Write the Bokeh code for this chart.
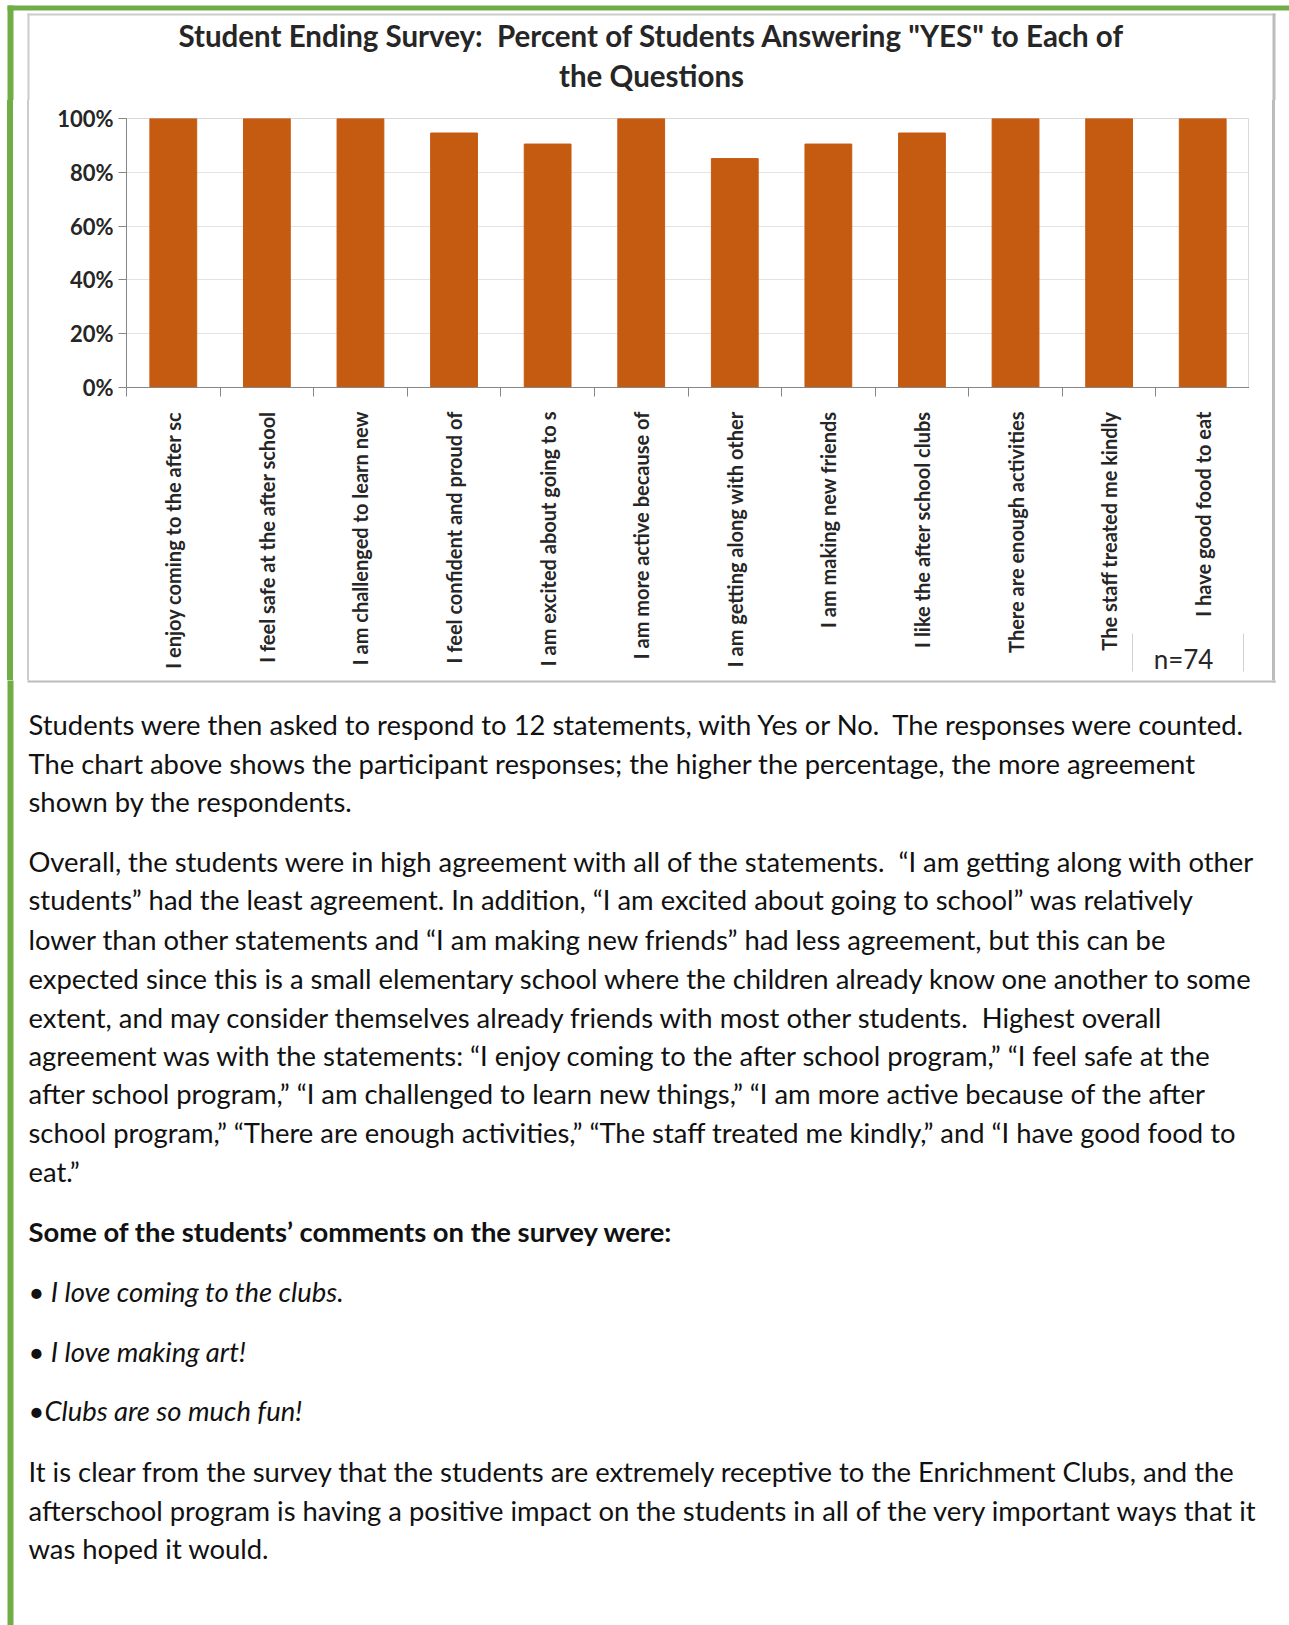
import math
from bokeh.plotting import figure
from bokeh.layouts import column, row
from bokeh.models import (Range1d, FactorRange, LinearAxis, CategoricalAxis, FixedTicker,
                          PrintfTickFormatter, CustomJSTickFormatter, Div)
from bokeh.core.properties import value
from bokeh.embed import file_html
from bokeh.resources import INLINE

# ---------------- data ----------------
categories = [
    "I enjoy coming to the after sc",
    "I feel safe at the after school",
    "I am challenged to learn new",
    "I feel confident and proud of",
    "I am excited about going to s",
    "I am more active because of",
    "I am getting along with other",
    "I am making new friends",
    "I like the after school clubs",
    "There are enough activities",
    "The staff treated me kindly",
    "I have good food to eat",
]
percent_yes = [100, 100, 100, 94.6, 90.5, 100, 85.1, 90.5, 94.6, 100, 100, 100]
y_ticks = [0, 20, 40, 60, 80, 100]
title_lines = ["Student Ending Survey:  Percent of Students Answering \"YES\" to Each of",
               "the Questions"]
sample_note = "n=74"

para1 = [
    "Students were then asked to respond to 12 statements, with Yes or No.  The responses were counted.",
    "The chart above shows the participant responses; the higher the percentage, the more agreement",
    "shown by the respondents.",
]
para2 = [
    "Overall, the students were in high agreement with all of the statements.  \u201cI am getting along with other",
    "students\u201d had the least agreement. In addition, \u201cI am excited about going to school\u201d was relatively",
    "lower than other statements and \u201cI am making new friends\u201d had less agreement, but this can be",
    "expected since this is a small elementary school where the children already know one another to some",
    "extent, and may consider themselves already friends with most other students.  Highest overall",
    "agreement was with the statements: \u201cI enjoy coming to the after school program,\u201d \u201cI feel safe at the",
    "after school program,\u201d \u201cI am challenged to learn new things,\u201d \u201cI am more active because of the after",
    "school program,\u201d \u201cThere are enough activities,\u201d \u201cThe staff treated me kindly,\u201d and \u201cI have good food to",
    "eat.\u201d",
]
comments_head = "Some of the students\u2019 comments on the survey were:"
comments = ["\u2022 I love coming to the clubs.", "\u2022 I love making art!", "\u2022Clubs are so much fun!"]
para3 = [
    "It is clear from the survey that the students are extremely receptive to the Enrichment Clubs, and the",
    "afterschool program is having a positive impact on the students in all of the very important ways that it",
    "was hoped it would.",
]

# ---------------- geometry (page pixels) ----------------
W, H = 1289, 1625
FL, FR, FT, FB = 126, 1249, 118, 387      # chart frame edges
CX0, CY0, CY1 = 40, 100, 680             # chart figure box: x from CX0 to FR, y from CY0 to CY1
N = len(categories)
FONT = "Lato"
AX = "#868686"
GREEN = "#70ad47"
BOX = "#cccccc"
BOX_SHADOW = "#bcbcbc"
INK = "#111111"


def keep_spaces(lines):
    return [t.replace("  ", "\u00a0 ") for t in lines]


def sx(px):
    """page pixel x -> synthetic categorical coordinate of the chart"""
    return (px - FL) * N / (FR - FL)


def deco_fig(x0, y0, w, h):
    f = figure(width=w, height=h, output_backend="svg", toolbar_location=None,
               x_range=Range1d(x0, x0 + w), y_range=Range1d(y0 + h, y0),
               x_axis_location=None, y_axis_location=None, min_border=0)
    f.grid.visible = False
    f.outline_line_color = None
    f.background_fill_color = "white"
    f.border_fill_color = "white"
    return f


def frame_lines(f):
    # green page border (top + left) and grey chart box
    f.quad(left=[7, 7], right=[W, 13], top=[5, 5], bottom=[10, H], color=GREEN, line_color=None)
    f.quad(left=[27, 27, 27, 1272], right=[29, 1275, 1275, 1275],
           top=[13, 13, 679, 13], bottom=[681, 15, 682, 682],
           color=[BOX, BOX, BOX_SHADOW, BOX_SHADOW], line_color=None)


def texts(f, x, ys, lines, size, style="normal", align="left", baseline="middle", color=INK):
    f.text(x=[x] * len(lines), y=ys, text=keep_spaces(lines), text_font=value(FONT),
           text_font_size=value(size), text_font_style=value(style),
           text_align=value(align), text_baseline=value(baseline), text_color=color)


def strip(width, height, bars):
    inner = "".join(
        f'<div style="position:absolute;left:{l}px;top:0;width:{w}px;height:{height}px;background:{c};"></div>'
        for l, w, c in bars)
    return Div(width=width, height=height, margin=0,
               text=f'<div style="position:relative;width:{width}px;height:{height}px;">{inner}</div>')


# ---------------- top strip ----------------
top = deco_fig(0, 0, W, CY0)
frame_lines(top)
texts(top, 651, [35, 75], title_lines, "29.5px", "bold", "center", color="#262626")

# ---------------- side strips ----------------
left = strip(CX0, CY1 - CY0, [(7, 6, GREEN), (27, 2, BOX)])
right = strip(W - FR, CY1 - CY0, [(1272 - FR, 3, BOX_SHADOW)])

# ---------------- chart ----------------
p = figure(width=FR - CX0, height=CY1 - CY0, output_backend="svg", toolbar_location=None,
           x_range=FactorRange(factors=categories), y_range=Range1d(0, 100),
           x_axis_location=None, y_axis_location=None,
           min_border_left=FL - CX0, min_border_right=0,
           min_border_top=FT - CY0, min_border_bottom=CY1 - FB)
p.background_fill_color = "white"
p.border_fill_color = "white"
p.outline_line_color = "#d9d9d9"
p.xgrid.visible = False
p.ygrid.grid_line_color = "#e3e3e3"
p.ygrid.ticker = FixedTicker(ticks=y_ticks)

p.vbar(x=categories, top=percent_yes, width=0.5, color="#c55a11")

yaxis = LinearAxis(ticker=FixedTicker(ticks=y_ticks), formatter=PrintfTickFormatter(format="%d%%"))
yaxis.axis_line_color = AX
yaxis.major_tick_line_color = AX
yaxis.major_tick_out = 8
yaxis.major_tick_in = 0
yaxis.minor_tick_line_color = None
yaxis.major_label_standoff = 5
yaxis.major_label_text_font = FONT
yaxis.major_label_text_font_style = "bold"
yaxis.major_label_text_font_size = "22px"
yaxis.major_label_text_color = "#262626"
p.add_layout(yaxis, "left")

# category boundary ticks (synthetic coordinates 0..N)
tick_axis = LinearAxis(ticker=FixedTicker(ticks=list(range(N + 1))))
tick_axis.axis_line_color = AX
tick_axis.major_tick_line_color = AX
tick_axis.major_tick_out = 9
tick_axis.major_tick_in = 0
tick_axis.minor_tick_line_color = None
tick_axis.major_label_standoff = 0
tick_axis.major_label_text_font_size = "0px"
tick_axis.major_label_text_color = None
p.add_layout(tick_axis, "below")

xaxis = CategoricalAxis()
xaxis.axis_line_color = None
xaxis.major_tick_line_color = None
xaxis.major_label_orientation = math.pi / 2
xaxis.major_label_standoff = 9
xaxis.major_label_text_font = FONT
xaxis.major_label_text_font_style = "bold"
xaxis.major_label_text_font_size = "20px"
xaxis.major_label_text_color = "#262626"
p.add_layout(xaxis, "below")

# sides of the small "n=" text box
box_axis = LinearAxis(ticker=FixedTicker(ticks=[sx(1132), sx(1243)]))
box_axis.axis_line_color = None
box_axis.major_tick_line_color = "#d0d0d0"
box_axis.major_tick_in = 38
box_axis.major_tick_out = 0
box_axis.minor_tick_line_color = None
box_axis.major_label_standoff = 0
box_axis.major_label_text_font_size = "0px"
box_axis.major_label_text_color = None
p.add_layout(box_axis, "below")

note_axis = LinearAxis(ticker=FixedTicker(ticks=[sx(1183)]),
                       formatter=CustomJSTickFormatter(args=dict(t=sample_note), code="return t;"))
note_axis.axis_line_color = None
note_axis.major_tick_line_color = None
note_axis.minor_tick_line_color = None
note_axis.major_label_standoff = -35
note_axis.major_label_text_font = FONT
note_axis.major_label_text_font_size = "26px"
note_axis.major_label_text_color = "#262626"
p.add_layout(note_axis, "below")

# ---------------- bottom strip with text ----------------
bottom = deco_fig(0, CY1, W, H - CY1)
frame_lines(bottom)
LX = 28
FS = "27.4px"
texts(bottom, LX, [724, 763, 801], para1, FS)
texts(bottom, LX, [861, 899, 939, 978, 1017, 1055, 1093, 1132, 1171], para2, FS)
texts(bottom, LX, [1231], [comments_head], FS, "bold")
texts(bottom, LX, [1291, 1351, 1410], comments, FS, "italic")
texts(bottom, LX, [1471, 1510, 1548], para3, FS)

page = column(top, row(left, p, right, spacing=0), bottom, spacing=0)
open("out.html", "w").write(file_html(page, INLINE))
